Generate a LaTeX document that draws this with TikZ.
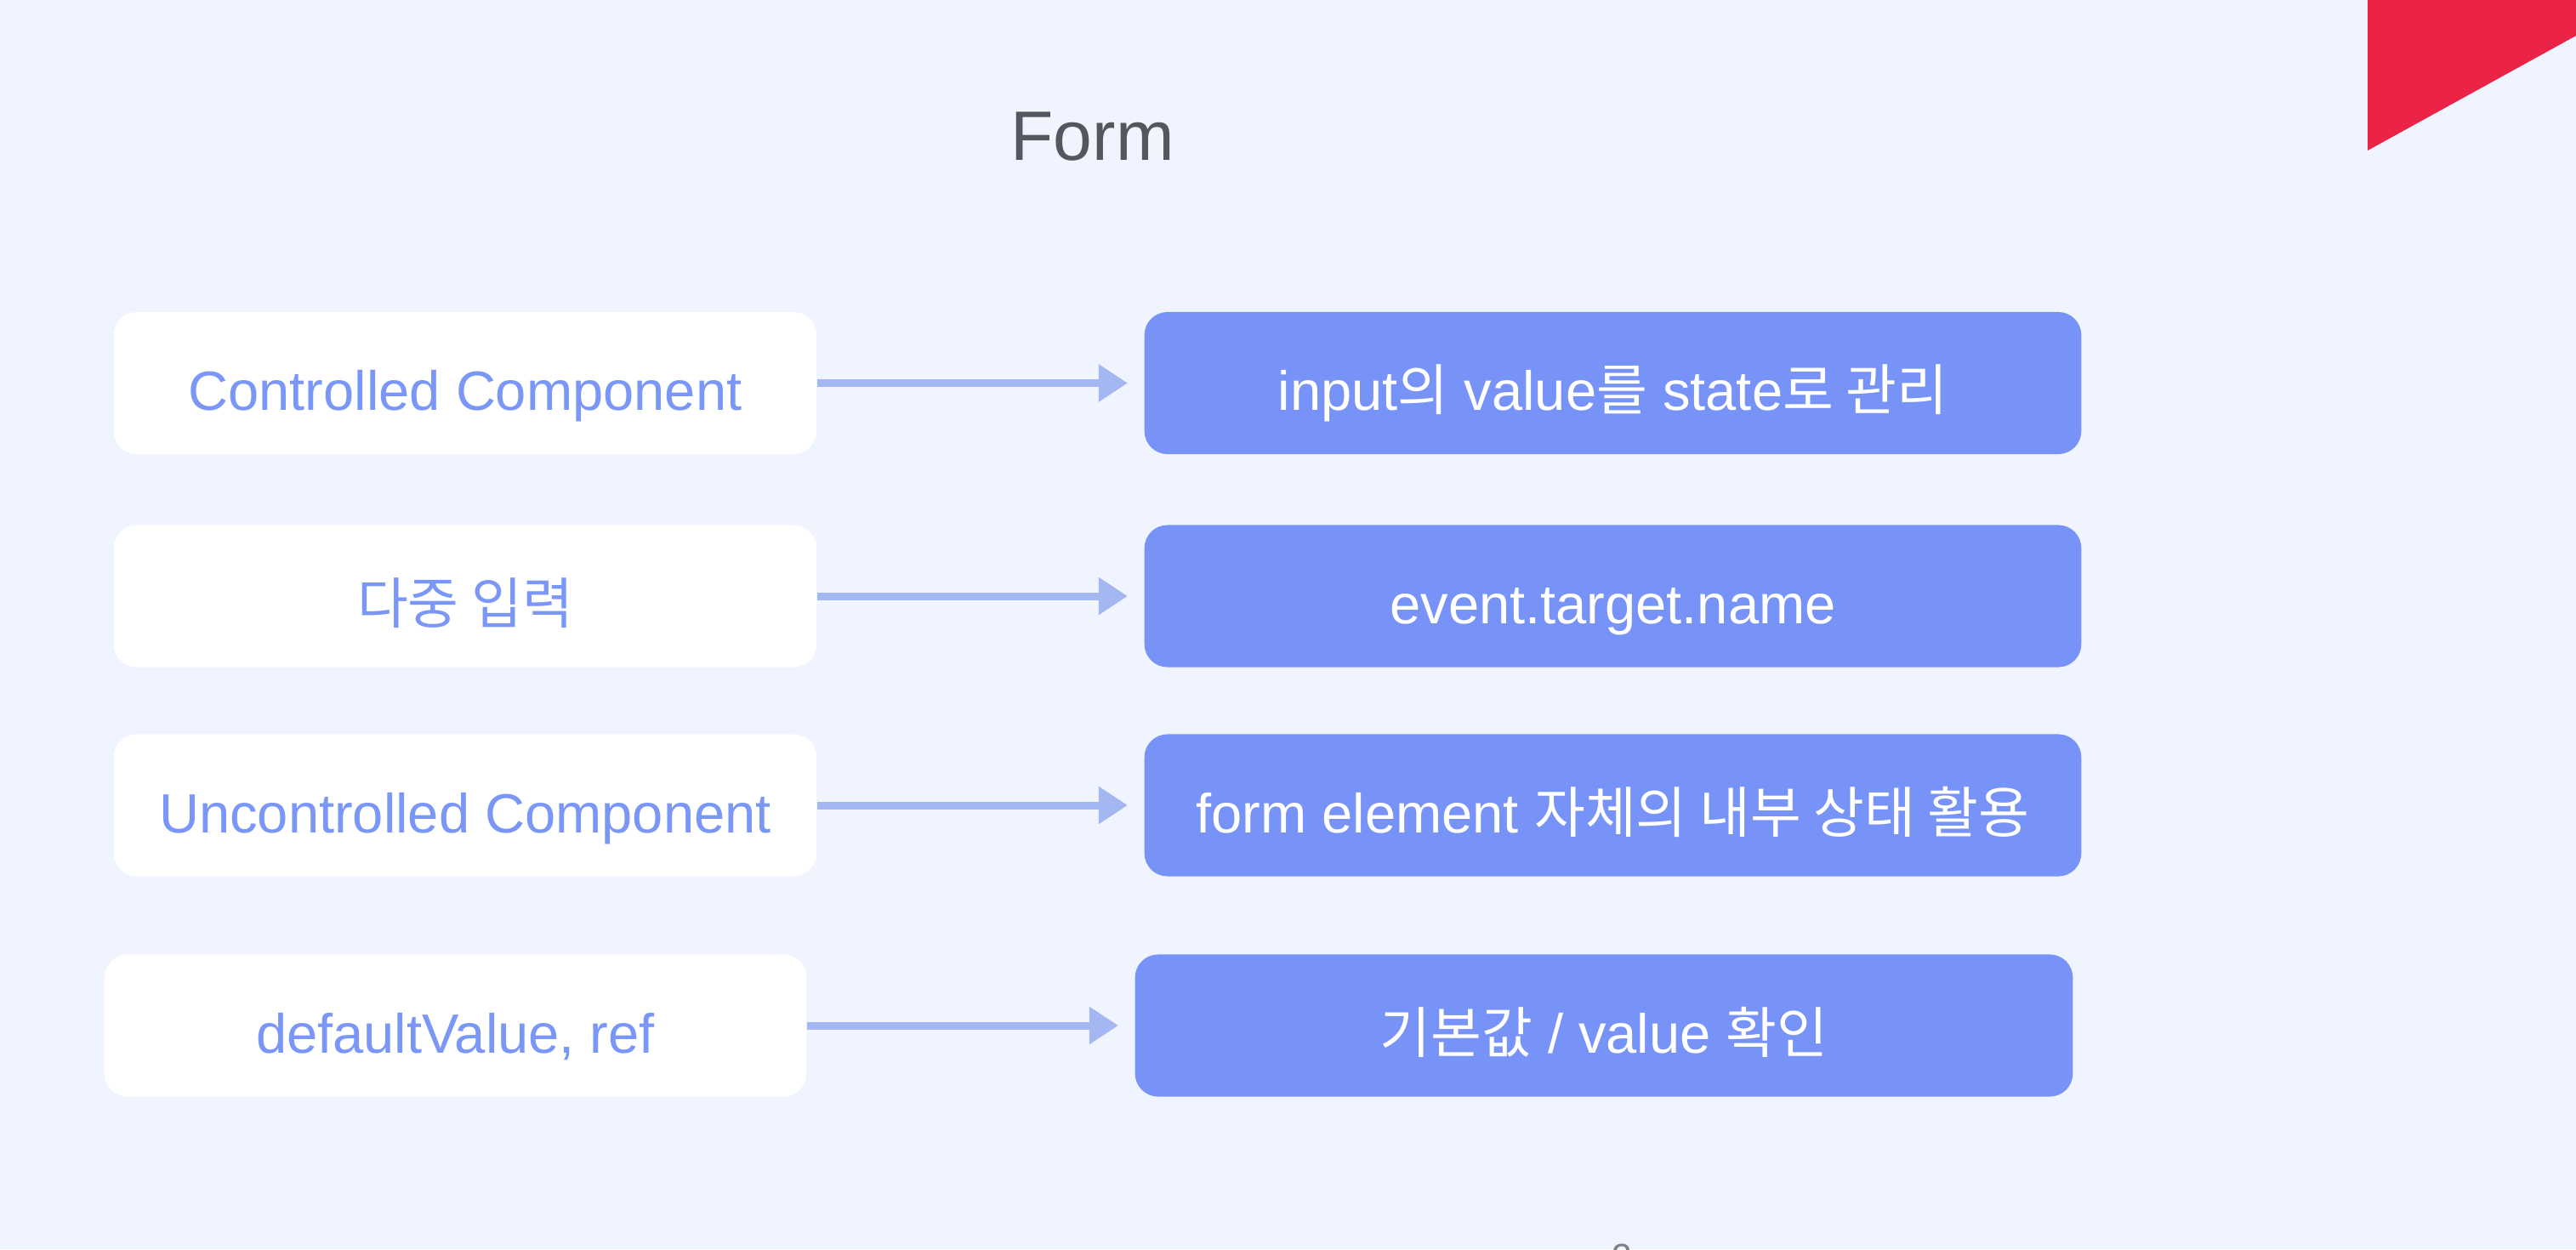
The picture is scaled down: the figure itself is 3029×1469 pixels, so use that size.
\documentclass[tikz,border=0pt]{standalone}
\usepackage{fontspec}
\setmainfont{Liberation Sans}
\newfontfamily\kr{Noto Sans CJK KR}
\usetikzlibrary{arrows.meta}
\definecolor{bgc}{HTML}{F0F4FE}
\definecolor{boxblue}{HTML}{7793F7}
\definecolor{txtblue}{HTML}{7A96F7}
\definecolor{arrc}{HTML}{A5B7F3}
\definecolor{redc}{HTML}{EB2347}
\definecolor{titlec}{HTML}{54575E}
\tikzset{
  boxtext/.style={inner sep=0pt, text height=0.64cm, text depth=0cm, font=\fontsize{18.5pt}{22pt}\selectfont},
  leftbox/.style={boxtext, fill=white, rounded corners=0.27cm, minimum width=8.26cm, minimum height=1.67cm, text=txtblue},
  rightbox/.style={boxtext, fill=boxblue, rounded corners=0.27cm, minimum width=11.01cm, minimum height=1.67cm, text=white},
  arr/.style={draw=arrc, line width=0.09cm, shorten >=0.19cm, -{Triangle[length=0.34cm,width=0.42cm]}}
}
\begin{document}
\begin{tikzpicture}[x=0.01cm,y=-0.01cm]
\path[use as bounding box] (0,0) rectangle (3029,1469);
\clip (0,0) rectangle (3029,1469);
\fill[bgc] (0,0) rectangle (3029,1469);
\fill[redc] (2784,0) -- (3029,0) -- (3029,42) -- (2784,177) -- cycle;
\node[anchor=base west, inner sep=0pt, text=titlec, font=\fontsize{23.4pt}{28pt}\selectfont] (title) at (1188,188) {Form};

\node[leftbox] (l1) at (547,450.5) {Controlled Component};
\node[leftbox] (l2) at (547,701) {{\kr 다중 입력}};
\node[leftbox] (l3) at (547,947) {Uncontrolled Component};
\node[leftbox, minimum width=8.25cm] (l4) at (535.5,1206) {defaultValue, ref};

\node[rightbox] (r1) at (1896.5,450.5) {input{\kr 의} value{\kr 를} state{\kr 로 관리}};
\node[rightbox] (r2) at (1896.5,701) {event.target.name};
\node[rightbox] (r3) at (1896.5,947) {form element {\kr 자체의 내부 상태 활용}};
\node[rightbox, minimum width=11.02cm] (r4) at (1886,1206) {{\kr 기본값} / value {\kr 확인}};

\draw[arr] (l1.east) -- (r1.west);
\draw[arr] (l2.east) -- (r2.west);
\draw[arr] (l3.east) -- (r3.west);
\draw[arr] (l4.east) -- (r4.west);

\node[anchor=north, inner sep=0pt, text=gray, font=\fontsize{12pt}{14pt}\selectfont] (pg) at (1907,1462) {2};
\end{tikzpicture}
\end{document}
